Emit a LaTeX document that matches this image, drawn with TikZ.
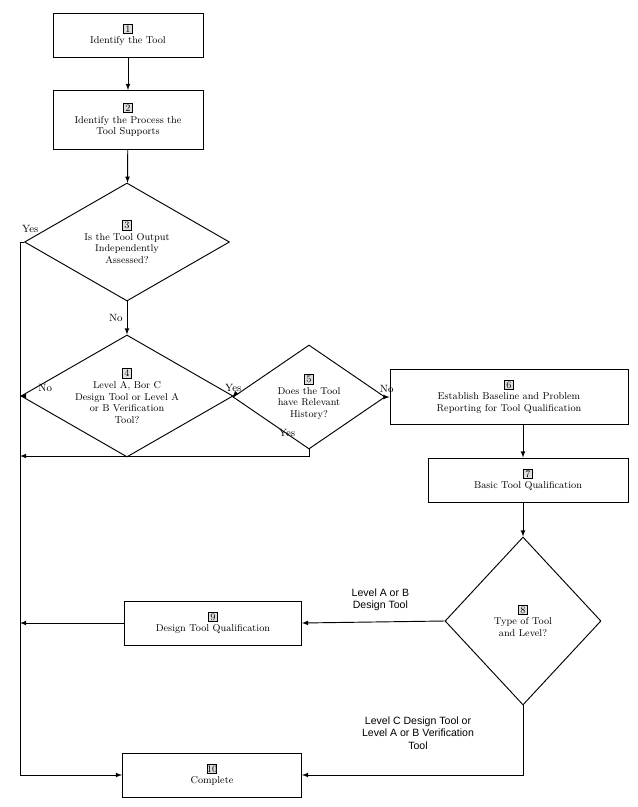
\documentclass[tikz,border=0pt]{standalone}
\usepackage{fontspec}
\newfontfamily\sans{Liberation Sans}
\usetikzlibrary{shapes.geometric}
\newcommand{\stepno}[1]{{\setlength\fboxsep{0.8pt}\setlength\fboxrule{0.4pt}\fcolorbox{black}{gray!25}{\makebox[6pt]{#1}}}}
\begin{document}
\begin{tikzpicture}[
  x=0.03cm, y=-0.03cm,
  font=\fontsize{8.5}{10}\selectfont,
  >=latex,
  tbox/.style={draw, thick, align=center, inner sep=1pt},
  test/.style={draw, thick, shape=diamond, inner sep=0pt},
  inside/.style={label={[align=center]center:#1}},
  lbl/.style={font=\fontsize{9}{10}\selectfont},
  slbl/.style={font=\sans\fontsize{9}{10.5}\selectfont, align=center}
]
\useasboundingbox (0,0) rectangle (637,807);
\node [tbox, minimum width=150*0.03cm, minimum height=44*0.03cm] (ident) at (128,35) {\stepno{1}\\Identify the Tool};
\node [tbox, minimum width=150*0.03cm, minimum height=59*0.03cm] (proc) at (128,120) {\stepno{2}\\Identify the Process the\\Tool Supports};
\node [test, minimum width=205*0.03cm, minimum height=118*0.03cm, inside={\stepno{3}\\Is the Tool Output\\Independently\\Assessed?}] (indep) at (127,242) {};
\node [test, minimum width=212*0.03cm, minimum height=122*0.03cm, inside={\stepno{4}\\Level A, Bor C\\Design Tool or Level A\\or B Verification\\Tool?}] (level) at (127,396) {};
\node [test, minimum width=152*0.03cm, minimum height=104*0.03cm, inside={\stepno{5}\\Does the Tool\\have Relevant\\History?}] (hist) at (309,397) {};
\node [tbox, minimum width=238*0.03cm, minimum height=55*0.03cm] (base) at (509,397) {\stepno{6}\\Establish Baseline and Problem\\Reporting for Tool Qualification};
\node [tbox, minimum width=200*0.03cm, minimum height=44*0.03cm] (basic) at (528,480) {\stepno{7}\\Basic Tool Qualification};
\node [test, minimum width=156*0.03cm, minimum height=168*0.03cm, inside={\stepno{8}\\Type of Tool\\and Level?}] (type) at (523,621) {};
\node [tbox, minimum width=177*0.03cm, minimum height=44*0.03cm] (design) at (213,623) {\stepno{9}\\Design Tool Qualification};
\node [tbox, minimum width=179*0.03cm, minimum height=44*0.03cm] (done) at (212,775) {\stepno{10}\\Complete};

\coordinate (top) at (20,242);
\coordinate (bot) at (20,775);
\draw [thick, ->] (ident) -- (proc);
\draw [thick, ->] (proc) -- (indep);
\draw [thick, ->] (indep) -- node [lbl, left] {No} (level);
\draw [thick] (indep.west) -- (top) node [lbl, above right, xshift=-2pt, yshift=4pt] {Yes};
\draw [thick, ->] (top) -- (bot) -- (done.west);
\draw [thick, ->] (level.west) -- (20,396) node [lbl, above right, xshift=12pt] {No};
\draw [thick, ->] (level.east) -- node [lbl, above, pos=0.3] {Yes} (hist.west);
\draw [thick, ->] (hist.east) -- node [lbl, above, pos=0.3] {No} (base.west);
\draw [thick, ->] (hist.south) -- (309,456) -- (20,456);
\node [lbl] at (287,433) {Yes};
\draw [thick, ->] (base.south -| 523,0) -- (basic.north -| 523,0);
\draw [thick, ->] (basic.south -| type) -- (type);
\draw [thick, ->] (type.west) -- node [slbl, above, pos=0.45, yshift=6pt] {Level A or B\\Design Tool} (design.east);
\draw [thick, ->] (design.west) -- (20,623);
\draw [thick, ->] (type.south) -- (523,775) -- (done.east);
\node [slbl] at (418,733) {Level C Design Tool or\\Level A or B Verification\\Tool};
\end{tikzpicture}
\end{document}
